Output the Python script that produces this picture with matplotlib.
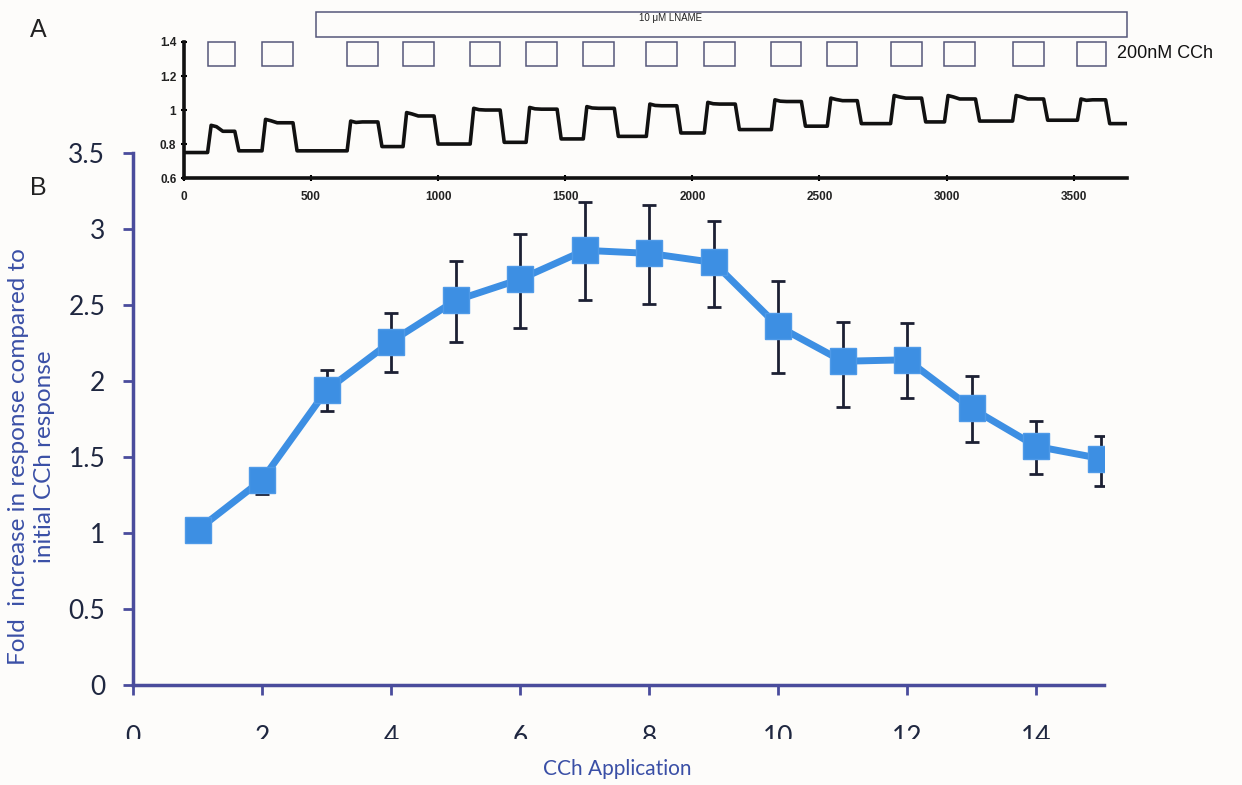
import numpy as np
import matplotlib.pyplot as plt
from matplotlib.patches import Rectangle
from matplotlib.ticker import FuncFormatter

# --- panel B : fold increase per CCh application ---
application = np.arange(1, 16)
fold = [1.02, 1.35, 1.94, 2.26, 2.53, 2.67, 2.86, 2.84, 2.78, 2.36, 2.13, 2.14, 1.82, 1.57, 1.49]
err_hi = [1.02, 1.43, 2.07, 2.45, 2.79, 2.97, 3.18, 3.16, 3.05, 2.66, 2.39, 2.38, 2.03, 1.74, 1.64]
err_lo = [1.02, 1.26, 1.80, 2.06, 2.26, 2.35, 2.53, 2.51, 2.49, 2.05, 1.83, 1.89, 1.60, 1.39, 1.31]

# --- panel A : raw trace (seconds) ---
cch_on = [93, 307, 642, 862, 1126, 1346, 1571, 1819, 2047, 2311, 2531, 2780, 2992, 3260, 3515]
cch_off = [200, 429, 763, 984, 1244, 1468, 1693, 1939, 2169, 2429, 2649, 2902, 3114, 3382, 3626]
baseline = [0.75, 0.76, 0.76, 0.785, 0.80, 0.81, 0.83, 0.845, 0.865, 0.885,
            0.905, 0.92, 0.93, 0.935, 0.94, 0.92]
peak = [0.91, 0.945, 0.935, 0.985, 1.01, 1.015, 1.02, 1.035, 1.045, 1.06,
        1.07, 1.085, 1.085, 1.085, 1.065]
plateau = [0.875, 0.925, 0.93, 0.965, 1.0, 1.005, 1.01, 1.025, 1.035, 1.05,
           1.055, 1.07, 1.065, 1.065, 1.06]
t_end = 3710
lname_start = 520

BLUE = "#3d8fe3"
NAVY = "#4a4c9c"
BG = "#fdfcfa"

fig = plt.figure(figsize=(12.42, 7.85), dpi=100, facecolor=BG)

# ---------------- panel B ----------------
ax = fig.add_axes([0.1071, 0.1274, 0.7818, 0.6776])
ax.set_facecolor("none")
ax.errorbar(application, fold,
            yerr=[np.array(fold) - np.array(err_lo), np.array(err_hi) - np.array(fold)],
            fmt="none", ecolor="#1c2033", elinewidth=2, capsize=5, capthick=2, zorder=2)
ax.plot(application, fold, color=BLUE, lw=5, marker="s", ms=19,
        mfc=BLUE, mec="#4f9ae8", zorder=3)
ax.set_xlim(0, 15.05)
ax.set_ylim(0, 3.5)
ax.set_xticks(range(0, 15, 2))
ax.set_yticks(np.arange(0, 3.51, 0.5))
ax.yaxis.set_major_formatter(FuncFormatter(lambda v, p: f"{v:g}"))
for s in ["top", "right"]:
    ax.spines[s].set_visible(False)
for s in ["left", "bottom"]:
    ax.spines[s].set_color(NAVY)
    ax.spines[s].set_linewidth(2.5)
ax.tick_params(axis="both", direction="out", length=7, width=2, color=NAVY,
               labelcolor="#1f2740", labelsize=19)
ax.tick_params(axis="y", pad=13)
ax.tick_params(axis="x", pad=22)
for lab in ax.get_xticklabels() + ax.get_yticklabels():
    lab.set_family("Lato")
ax.set_ylabel("Fold  increase in response compared to\ninitial CCh response",
              family="Lato", fontsize=17.5, color="#3a4fa6", linespacing=1.3)
ax.yaxis.set_label_coords(-0.08, 0.43)
fig.text(0.497, 0.008, "CCh Application", family="Lato", fontsize=15,
         color="#3a4fa6", ha="center", va="bottom", zorder=20)

# bottom half of the x tick labels is cut off in the original
fig.patches.append(Rectangle((0.08, 0.0), 0.85, 0.058, transform=fig.transFigure,
                             facecolor=BG, edgecolor="none", zorder=10))

# ---------------- panel A ----------------
ins = fig.add_axes([0.1481, 0.7732, 0.7593, 0.1733])
ins.set_facecolor("none")
tt = [0.0]
yy = [baseline[0]]
for i in range(len(cch_on)):
    tt += [cch_on[i], cch_on[i] + 14, cch_on[i] + 35, cch_on[i] + 60,
           cch_off[i], cch_off[i] + 16]
    yy += [baseline[i], peak[i], peak[i] - 0.008, plateau[i], plateau[i], baseline[i + 1]]
tt.append(t_end)
yy.append(baseline[-1])
ins.plot(tt, yy, color="#111111", lw=2.6, solid_joinstyle="round")
ins.set_xlim(0, t_end)
ins.set_ylim(0.6, 1.4)
ins.set_xticks(range(0, 3501, 500))
ins.set_yticks([0.6, 0.8, 1.0, 1.2, 1.4])
ins.yaxis.set_major_formatter(FuncFormatter(lambda v, p: f"{v:g}"))
for s in ["top", "right"]:
    ins.spines[s].set_visible(False)
for s in ["left", "bottom"]:
    ins.spines[s].set_color("#111111")
    ins.spines[s].set_linewidth(2.6)
ins.tick_params(axis="both", direction="inout", length=4, width=1.5,
                labelsize=8.5, labelcolor="#222222")
ins.tick_params(axis="x", pad=7)
for lab in ins.get_xticklabels() + ins.get_yticklabels():
    lab.set_fontweight("bold")
    lab.set_family("Liberation Sans")

for on, off in zip(cch_on, cch_off):
    ins.add_patch(Rectangle((on, 1.259), off - on, 0.141, facecolor="none",
                            edgecolor="#55577a", lw=1.1, clip_on=False))
ins.text(3672, 1.335, "200nM CCh", family="Liberation Sans", fontsize=13,
         color="#111111", va="center", ha="left")
ins.add_patch(Rectangle((lname_start, 1.429), t_end - lname_start, 0.147,
                        facecolor="none", edgecolor="#55577a", lw=1.1, clip_on=False))
ins.text(1913, 1.541, "10 \u03bcM LNAME", family="Liberation Sans", fontsize=7,
         color="#222222", ha="center", va="center")

fig.text(0.024, 0.977, "A", family="Liberation Sans", fontsize=18, color="#222222", va="top")
fig.text(0.024, 0.776, "B", family="Liberation Sans", fontsize=18, color="#222222", va="top")

fig.savefig("out.png", dpi=100, facecolor=BG)
